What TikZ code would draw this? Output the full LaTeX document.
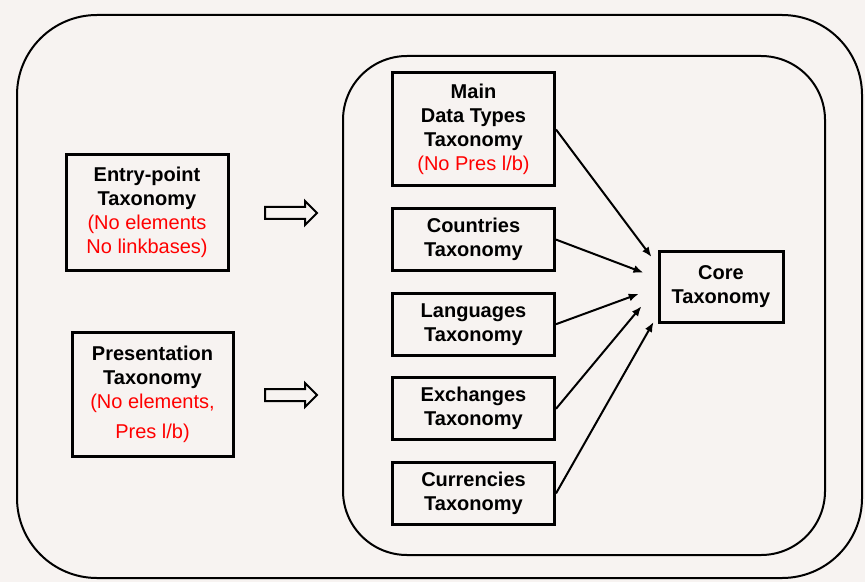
\documentclass[tikz,border=0pt]{standalone}
\usepackage{fontspec}
\setmainfont{Liberation Sans}
\usetikzlibrary{arrows.meta,positioning,shapes.arrows}
\definecolor{paper}{RGB}{247,243,241}
\newcommand{\redline}[1]{\textcolor{red}{\mdseries #1}}

\begin{document}
\begin{tikzpicture}[
    x = 0.5pt, y = -0.5pt, % picture measured in pixels
    > = {Latex[length=5pt,width=4pt]}, % arrow head style
    node distance = 9.8pt, % gap between stacked boxes
    font = \fontsize{10}{12}\selectfont\bfseries
    ]

    \tikzset{
    taxbox/.style = {
        draw = black,
        line width = 1.5pt,
        fill = paper,
        align = center,
        inner sep = 2pt,
        minimum width = 81pt
        },
    link/.style = {->, line width = 1pt},
    hollow arrow/.style = {
        single arrow,
        draw = black,
        line width = 1pt,
        minimum height = 26pt,
        inner sep = 2.5pt,
        single arrow head extend = 3pt
        }
    }

    % background and frames
    \fill[paper] (0,0) rectangle (865,582);
    \useasboundingbox (0,0) rectangle (865,582);
    \draw[line width = 1pt, rounded corners = 40pt] (17,15) rectangle (862,578);
    \draw[line width = 1pt, rounded corners = 32pt] (343,56) rectangle (825,555);

    % left side
    \node[taxbox, minimum height = 57.5pt] (entry) at (147,212.5)
        {Entry-point\\Taxonomy\\\redline{(No elements}\\\redline{No linkbases)}};
    \node[taxbox, minimum width = 80.5pt, minimum height = 62pt] (pres) at (152.5,394)
        {Presentation\\Taxonomy\\\redline{(No elements,}\\[3pt]\redline{Pres l/b)}};
    \node[hollow arrow] (arrEntry) at (288,213) {};
    \node[hollow arrow] (arrPres) at (288,395) {};

    % inner stack
    \node[taxbox, minimum height = 56.5pt] (main) at (473.5,129.5)
        {Main\\Data Types\\Taxonomy\\\redline{(No Pres l/b)}};
    \node[taxbox, minimum height = 31pt] (countries) [below=of main] {Countries\\Taxonomy};
    \node[taxbox, minimum height = 31pt] (languages) [below=of countries] {Languages\\Taxonomy};
    \node[taxbox, minimum height = 31pt] (exchanges) [below=of languages] {Exchanges\\Taxonomy};
    \node[taxbox, minimum height = 31pt] (currencies) [below=of exchanges] {Currencies\\Taxonomy};

    \node[taxbox, minimum width = 62pt, minimum height = 35pt] (core) at (721,287) {Core\\Taxonomy};

    \draw[link, shorten > = 5pt] (main.east) -- ([yshift=11pt]core.west);
    \draw[link, shorten > = 7.5pt] (countries.east) -- ([yshift=4.5pt]core.west);
    \draw[link, shorten > = 10pt] (languages.east) -- (core.west);
    \draw[link, shorten > = 12.5pt] (exchanges.east) -- (core.west);
    \draw[link, shorten > = 4pt] (currencies.east) -- ([yshift=-14pt]core.west);
\end{tikzpicture}
\end{document}
